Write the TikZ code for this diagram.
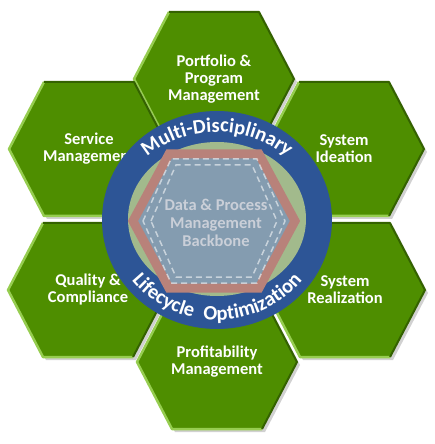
\documentclass[tikz,border=0pt]{standalone}
\usepackage{fontspec}
\setmainfont{Carlito}
\usetikzlibrary{decorations.text}
\definecolor{hexgreen}{RGB}{78, 142, 0}
\definecolor{hexlight}{RGB}{150, 205, 80}
\definecolor{hexdark}{RGB}{52, 98, 0}
\definecolor{ringblue}{RGB}{45, 85, 150}
\definecolor{sage}{RGB}{162, 186, 140}
\definecolor{backbone}{RGB}{132, 156, 176}
\definecolor{rustred}{RGB}{184, 130, 122}
\definecolor{palegray}{RGB}{202, 207, 216}
\newcommand{\ringfont}{\fontsize{20.5}{20.5}\selectfont\bfseries}

\tikzset{
  hextext/.style={font=\fontsize{16.5}{17}\selectfont\bfseries, text=white, align=center},
  hexcell/.pic={
    \fill[black!40, opacity=0.45, shift={(3,-3)}] (-80,0) -- (-45,67) -- (45,67) -- (80,0) -- (45,-67) -- (-45,-67) -- cycle;
    \fill[hexgreen] (-80,0) -- (-45,67) -- (45,67) -- (80,0) -- (45,-67) -- (-45,-67) -- cycle;
    \draw[hexlight, line width=2.5pt, line join=round] (-45,67) -- (-80,0) -- (-45,-67) -- (45,-67);
    \draw[hexdark, line width=2pt, line join=round] (-45,67) -- (45,67) -- (80,0) -- (45,-67);
  }
}

\begin{document}
\begin{tikzpicture}[x=1pt, y=1pt]
  \useasboundingbox (-217,-224) rectangle (217,220);

  % Outer hexagons
  \pic at (-3, 141) {hexcell};
  \pic at (127, 71) {hexcell};
  \pic at (128, -70) {hexcell};
  \pic at (0, -142) {hexcell};
  \pic at (-129, -70) {hexcell};
  \pic at (-128, 71) {hexcell};

  \node[hextext] (portfolio) at (-3, 141) {Portfolio \&\\Program\\Management};
  \node[hextext] (ideation) at (127, 71) {System\\Ideation};
  \node[hextext] (realization) at (128, -70) {System\\Realization};
  \node[hextext] (profit) at (0, -142) {Profitability\\Management};
  \node[hextext] (quality) at (-129, -70) {Quality \&\\Compliance};
  \node[hextext] (service) at (-128, 71) {Service\\Management};

  % Ring
  \fill[ringblue] (0,0) ellipse[x radius=115, y radius=109];
  \fill[sage] (0,1) ellipse[x radius=89, y radius=77];

  % Backbone hexagon
  \draw[rustred, line width=9pt, fill=backbone, line join=miter]
    (-84,-1) -- (-48,66) -- (42,66) -- (78,-1) -- (42,-68) -- (-48,-68) -- cycle;
  \draw[white, opacity=0.55, line width=1.5pt, dash pattern=on 6pt off 4pt]
    (-74,-1) -- (-46,61) -- (40,61) -- (68,-1) -- (40,-63) -- (-46,-63) -- cycle;
  \draw[white, opacity=0.55, line width=1.5pt, dash pattern=on 6pt off 4pt]
    (-66,-1) -- (-41,55) -- (35,55) -- (60,-1) -- (35,-57) -- (-41,-57) -- cycle;
  \node[font=\fontsize{16.5}{18}\selectfont\bfseries, text=palegray, align=center] (backbonetext) at (-1,-3) {Data \& Process\\Management\\Backbone};

  % Ring labels
  \path[decorate, decoration={text along path, text align=center, text color=white,
    text={|\ringfont|Multi-Disciplinary}}]
    (175:100 and 88) arc[start angle=175, end angle=5, x radius=100, y radius=88];
  \path[decorate, decoration={text along path, text align=center, text color=white,
    text={|\ringfont|Lifecycle{\hspace{6pt}} Optimization}}]
    (185:107 and 100) arc[start angle=185, end angle=355, x radius=107, y radius=100];
\end{tikzpicture}
\end{document}
